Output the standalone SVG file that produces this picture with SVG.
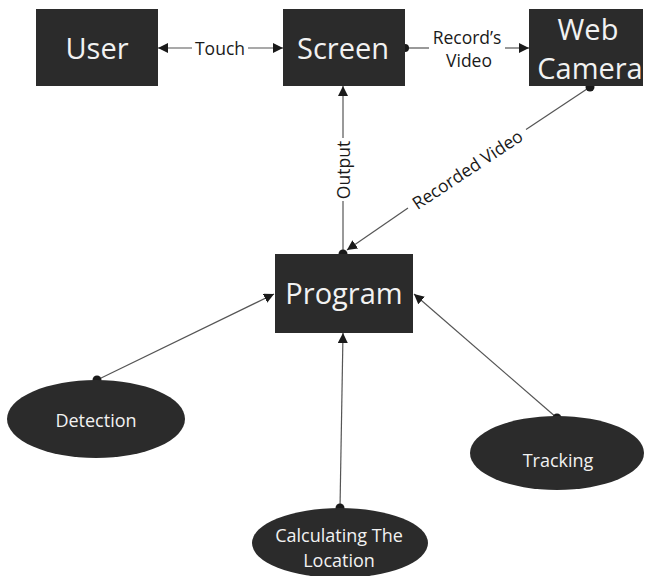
<svg xmlns="http://www.w3.org/2000/svg" width="648" height="576" viewBox="0 0 648 576">
  <style>
    .box { fill: #2b2b2b; }
    .node-text { fill: #f2f2f2; font-family: "Open Sans", "Noto Sans", sans-serif; text-anchor: middle; dominant-baseline: central; }
    .big { font-size: 29px; }
    .small { font-size: 18px; }
    .edge { stroke: #555; stroke-width: 1.2; fill: none; }
    .label { fill: #1a1a1a; font-family: "Open Sans", "Noto Sans", sans-serif; font-size: 17.5px; text-anchor: middle; dominant-baseline: central; }
    .dot { fill: #1a1a1a; }
  </style>
  <defs>
    <marker id="arrow" viewBox="0 0 10 10" refX="10" refY="5" markerWidth="10" markerHeight="10" markerUnits="userSpaceOnUse" orient="auto-start-reverse">
      <path d="M0,0 L10,5 L0,10 Z" fill="#1a1a1a"/>
    </marker>
  </defs>

  <rect width="648" height="576" fill="#ffffff"/>

  <!-- connectors -->
  <g id="connectors">
    <!-- User <-> Screen -->
    <line class="edge" x1="158" y1="48" x2="192" y2="48" marker-start="url(#arrow)"/>
    <line class="edge" x1="248" y1="48" x2="283" y2="48" marker-end="url(#arrow)"/>
    <text class="label" x="220" y="48">Touch</text>

    <!-- Screen -> Web Camera -->
    <line class="edge" x1="405" y1="48" x2="429" y2="48"/>
    <line class="edge" x1="505" y1="48" x2="529" y2="48" marker-end="url(#arrow)"/>
    <circle class="dot" cx="405" cy="48" r="4"/>
    <text class="label" x="467" y="37">Record’s</text>
    <text class="label" x="469" y="60">Video</text>

    <!-- Program -> Screen (Output) -->
    <line class="edge" x1="343" y1="138" x2="343" y2="86" marker-end="url(#arrow)"/>
    <line class="edge" x1="343" y1="201" x2="343" y2="254"/>
    <circle class="dot" cx="343" cy="254" r="4.5"/>
    <text class="label" transform="translate(343,170) rotate(-90)">Output</text>

    <!-- Web Camera -> Program (Recorded Video) -->
    <line class="edge" x1="590" y1="87" x2="526" y2="129.6"/>
    <line class="edge" x1="408" y1="208" x2="347" y2="250" marker-end="url(#arrow)"/>
    <circle class="dot" cx="590" cy="87" r="4.5"/>
    <text class="label" transform="translate(467,169) rotate(-33.6)">Recorded Video</text>

    <!-- Detection -> Program -->
    <line class="edge" x1="97" y1="380" x2="274" y2="294" marker-end="url(#arrow)"/>
    <circle class="dot" cx="97" cy="380" r="4.5"/>

    <!-- Calculating The Location -> Program -->
    <line class="edge" x1="340" y1="508" x2="343" y2="333" marker-end="url(#arrow)"/>
    <circle class="dot" cx="340" cy="508" r="4.5"/>

    <!-- Tracking -> Program -->
    <line class="edge" x1="557" y1="418" x2="414" y2="294" marker-end="url(#arrow)"/>
    <circle class="dot" cx="557" cy="418" r="4.5"/>
  </g>

  <!-- nodes -->
  <g id="user">
    <rect class="box" x="36" y="9" width="122" height="77"/>
    <text class="node-text big" x="97" y="47">User</text>
  </g>

  <g id="screen">
    <rect class="box" x="283" y="9" width="122" height="77"/>
    <text class="node-text big" x="343" y="47">Screen</text>
  </g>

  <g id="web-camera">
    <rect class="box" x="529" y="9" width="114" height="77"/>
    <text class="node-text big" x="588" y="28">Web</text>
    <text class="node-text big" x="590" y="67">Camera</text>
  </g>

  <g id="program">
    <rect class="box" x="275" y="254" width="138" height="79"/>
    <text class="node-text big" x="344" y="292">Program</text>
  </g>

  <g id="detection">
    <ellipse class="box" cx="96" cy="419" rx="89" ry="39"/>
    <text class="node-text small" x="96" y="420">Detection</text>
  </g>

  <g id="calculating-the-location">
    <ellipse class="box" cx="340" cy="543" rx="88" ry="35"/>
    <text class="node-text small" x="339" y="535">Calculating The</text>
    <text class="node-text small" x="339" y="560">Location</text>
  </g>

  <g id="tracking">
    <ellipse class="box" cx="557" cy="453" rx="87" ry="37"/>
    <text class="node-text small" x="558" y="460">Tracking</text>
  </g>
</svg>
